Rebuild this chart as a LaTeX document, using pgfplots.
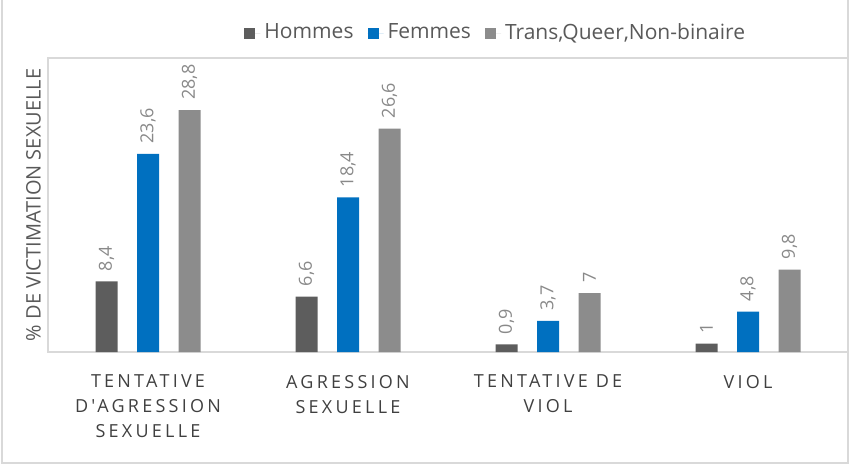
\documentclass[border=0pt]{standalone}
\usepackage{fontspec}
\setmainfont{Open Sans}
\newfontfamily\catfont{Open Sans}[LetterSpace=18]
\usepackage{pgfplots}
\pgfplotsset{compat=1.18}

\definecolor{hommes}{RGB}{93,93,93}
\definecolor{femmes}{RGB}{0,112,192}
\definecolor{tqnb}{RGB}{140,140,140}
\definecolor{cadre}{RGB}{217,217,217}
\definecolor{etiq}{RGB}{137,137,137}
\definecolor{texte}{RGB}{64,64,64}
\definecolor{axetxt}{RGB}{89,89,89}

\begin{document}
\begin{tikzpicture}
% 1 px of the reference = 0.5pt
\useasboundingbox (0,0) rectangle (425pt,-233pt);
\draw[cadre, line width=0.9pt] (1pt,0) -- (1pt,-231.5pt) -- (424pt,-231.5pt) -- (424pt,0);
\begin{axis}[
  at={(24pt,-176pt)}, anchor=south west,
  width=400pt, height=147pt, scale only axis,
  xmin=-0.5, xmax=3.5, ymin=0, ymax=35,
  axis line style={cadre, line width=1pt},
  ytick=\empty,
  xtick={0,1,2,3},
  xticklabels={{TENTATIVE\\D'AGRESSION\\SEXUELLE},{AGRESSION\\SEXUELLE},{TENTATIVE DE\\VIOL},{VIOL}},
  major tick length=0pt,
  xticklabel style={align=center, anchor=north, yshift=-8pt, text=texte,
    font=\catfont\fontsize{9}{12.5}\selectfont},
  ylabel={\% DE VICTIMATION SEXUELLE},
  ylabel style={at={(axis description cs:0,0.5)}, anchor=south, rotate=0,
    text=axetxt, font=\fontsize{10}{12}\selectfont},
  ybar=9.75pt, bar width=11pt,
  nodes near coords,
  every node near coord/.append style={rotate=90, anchor=west, inner xsep=5pt,
    text=etiq, font=\fontsize{9}{11}\selectfont},
  /pgf/number format/.cd, use comma, fixed, precision=1, assume math mode=true, /pgfplots/.cd,
  legend columns=-1,
  legend image code/.code={\path (0pt,0pt) -- (8pt,0pt);
    \fill[#1] (0pt,-2.75pt) rectangle (5.5pt,2.75pt);},
  legend style={at={(axis description cs:0.561,1)}, anchor=center, yshift=12.5pt,
    draw=none, fill=none, text=axetxt, font=\fontsize{10.5}{12}\selectfont,
    /tikz/every even column/.append style={column sep=5pt}},
]
\addplot[fill=hommes, draw=none] coordinates {(0,8.4) (1,6.6) (2,0.9) (3,1)};
\addplot[fill=femmes, draw=none] coordinates {(0,23.6) (1,18.4) (2,3.7) (3,4.8)};
\addplot[fill=tqnb, draw=none] coordinates {(0,28.8) (1,26.6) (2,7) (3,9.8)};
\legend{Hommes, Femmes, {Trans,Queer,Non-binaire}}
\end{axis}
\end{tikzpicture}
\end{document}
